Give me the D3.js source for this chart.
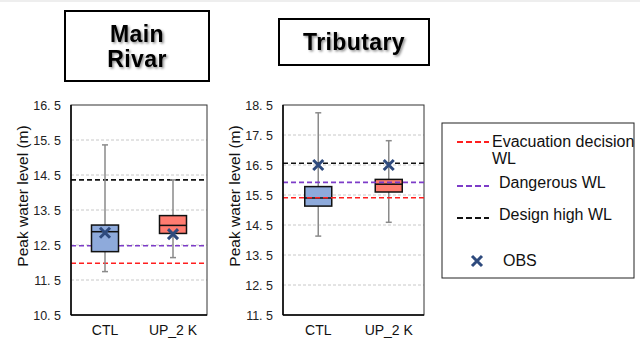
<!DOCTYPE html>
<html>
<head>
<meta charset="utf-8">
<script src="https://cdn.jsdelivr.net/npm/d3@7"></script>
<style>
body { margin: 0; background: #fff; }
svg { display: block; }
text { font-family: "Liberation Sans", Arial, sans-serif; }
</style>
</head>
<body>
<svg id="chart" width="640" height="338"></svg>
<script>
// data
var categories = ["CTL", "UP_2 K"];

// [min, q1, median, q3, max]
var mainStats = [[11.74, 12.31, 12.88, 13.07, 15.36],
                 [12.14, 12.83, 13.06, 13.34, 14.36]];
var mainObs = [12.85, 12.81];
var mainLevels = [11.98, 12.48, 14.36];   // evacuation, dangerous, design high
var mainTicks = [10.5, 11.5, 12.5, 13.5, 14.5, 15.5, 16.5];

var tribStats = [[14.13, 15.13, 15.40, 15.78, 18.24],
                 [14.59, 15.60, 15.86, 16.02, 17.31]];
var tribObs = [16.5, 16.5];
var tribLevels = [15.41, 15.92, 16.56];
var tribTicks = [11.5, 12.5, 13.5, 14.5, 15.5, 16.5, 17.5, 18.5];

var levelNames = [["Evacuation decision", "WL"], ["Dangerous WL"], ["Design high WL"]];
var levelColors = ["#ff1f1f", "#7d3cc8", "#111111"];
var boxColors = ["#8eaadb", "#ff7c70"];
var obsColor = "#2e4a7d";

var svg = d3.select("#chart");

// faint strip at the very top
svg.append("rect").attr("x", 0).attr("y", 0).attr("width", 640).attr("height", 2)
    .attr("fill", "#eeeeee");

var defs = svg.append("defs");
var f = defs.append("filter").attr("id", "shadow")
    .attr("x", "-20%").attr("y", "-20%").attr("width", "140%").attr("height", "140%");
f.append("feDropShadow").attr("dx", 1.5).attr("dy", 1.5).attr("stdDeviation", 1.2)
    .attr("flood-color", "#000").attr("flood-opacity", 0.45);

function fmtTick(v) { return d3.format(".1f")(v).replace(".", ". "); }

function drawPanel(p) {
    var y = d3.scaleLinear().domain(p.domain).range([315, 105]);
    var x = d3.scaleBand().domain(categories).range([p.left, p.right]);
    var g = svg.append("g");

    // gridlines
    g.selectAll(".grid").data(p.ticks.slice(1, -1)).enter().append("line")
        .attr("x1", p.left).attr("x2", p.right)
        .attr("y1", function(d) { return y(d); })
        .attr("y2", function(d) { return y(d); })
        .attr("stroke", "#c8c8c8").attr("stroke-width", 1)
        .attr("stroke-dasharray", "3,2");

    // frame
    g.append("rect").attr("x", p.left).attr("y", 105)
        .attr("width", p.right - p.left).attr("height", 210)
        .attr("fill", "none").attr("stroke", "#333").attr("stroke-width", 1);

    var levels = g.append("g");
    var boxes = g.append("g");
    if (p.linesOnTop) levels.raise();

    levels.selectAll("line").data(p.levels).enter().append("line")
        .attr("x1", p.left).attr("x2", p.right)
        .attr("y1", function(d) { return y(d); })
        .attr("y2", function(d) { return y(d); })
        .attr("stroke", function(d, i) { return levelColors[i]; })
        .attr("stroke-width", 1.6)
        .attr("stroke-dasharray", "5,3");

    var bw = 27;
    var b = boxes.selectAll("g").data(p.stats).enter().append("g")
        .attr("transform", function(d, i) { return "translate(" + (x(categories[i]) + x.bandwidth() / 2) + ",0)"; });
    b.append("line").attr("x1", 0).attr("x2", 0)
        .attr("y1", function(d) { return y(d[0]); })
        .attr("y2", function(d) { return y(d[4]); })
        .attr("stroke", "#8a8a8a").attr("stroke-width", 1.5);
    b.append("line").attr("x1", -3).attr("x2", 3)
        .attr("y1", function(d) { return y(d[0]); })
        .attr("y2", function(d) { return y(d[0]); })
        .attr("stroke", "#8a8a8a").attr("stroke-width", 1.5);
    b.append("line").attr("x1", -3).attr("x2", 3)
        .attr("y1", function(d) { return y(d[4]); })
        .attr("y2", function(d) { return y(d[4]); })
        .attr("stroke", "#8a8a8a").attr("stroke-width", 1.5);
    b.append("rect").attr("x", -bw / 2).attr("width", bw)
        .attr("y", function(d) { return y(d[3]); })
        .attr("height", function(d) { return y(d[1]) - y(d[3]); })
        .attr("fill", function(d, i) { return boxColors[i]; })
        .attr("stroke", "#111").attr("stroke-width", 1.5);
    b.append("line").attr("x1", -bw / 2).attr("x2", bw / 2)
        .attr("y1", function(d) { return y(d[2]); })
        .attr("y2", function(d) { return y(d[2]); })
        .attr("stroke", "#111").attr("stroke-width", 1.5);

    // obs markers
    var obs = g.append("g");
    obs.selectAll("path").data(p.obs).enter().append("path")
        .attr("d", "M-5,-5L5,5M-5,5L5,-5")
        .attr("transform", function(d, i) {
            return "translate(" + (x(categories[i]) + x.bandwidth() / 2) + "," + y(d) + ")";
        })
        .attr("stroke", obsColor).attr("stroke-width", 3);

    // left & bottom axis lines
    g.append("line").attr("x1", p.left).attr("x2", p.left).attr("y1", 105).attr("y2", 315)
        .attr("stroke", "#000").attr("stroke-width", 1.5);
    g.append("line").attr("x1", p.left).attr("x2", p.right).attr("y1", 315).attr("y2", 315)
        .attr("stroke", "#000").attr("stroke-width", 1.5);

    // tick labels
    g.selectAll(".tl").data(p.ticks).enter().append("text")
        .attr("x", p.left - 10).attr("y", function(d) { return y(d) + 4.5; })
        .attr("text-anchor", "end").attr("font-size", 12.5).attr("fill", "#222")
        .text(fmtTick);

    g.selectAll(".xl").data(categories).enter().append("text")
        .attr("x", function(d) { return x(d) + x.bandwidth() / 2; })
        .attr("y", 335).attr("text-anchor", "middle")
        .attr("font-size", 14).attr("fill", "#111")
        .text(function(d) { return d; });

    g.append("text")
        .attr("transform", "translate(" + p.titleX + ",196) rotate(-90)")
        .attr("text-anchor", "middle").attr("font-size", 15.5).attr("fill", "#111")
        .text("Peak water level (m)");

    // title box
    g.append("rect").attr("x", p.box[0]).attr("y", p.box[1])
        .attr("width", p.box[2]).attr("height", p.box[3])
        .attr("fill", "#fff").attr("stroke", "#000").attr("stroke-width", 2);
    var t = g.append("text").attr("text-anchor", "middle")
        .attr("font-family", "DejaVu Sans, Verdana, sans-serif")
        .attr("font-weight", "bold").attr("font-size", 23)
        .attr("letter-spacing", 0.4)
        .attr("filter", "url(#shadow)").attr("fill", "#000");
    p.title.forEach(function(s, i) {
        t.append("tspan").attr("x", p.box[0] + p.box[2] / 2)
            .attr("y", p.titleY + i * 25).text(s);
    });
}

drawPanel({ left: 71, right: 207, domain: [10.5, 16.5], ticks: mainTicks,
            stats: mainStats, obs: mainObs, levels: mainLevels, linesOnTop: false,
            titleX: 28, box: [65, 11, 144, 70], title: ["Main", "Rivar"], titleY: 42 });
drawPanel({ left: 283, right: 424, domain: [11.5, 18.5], ticks: tribTicks,
            stats: tribStats, obs: tribObs, levels: tribLevels, linesOnTop: true,
            titleX: 240, box: [279, 19, 150, 46], title: ["Tributary"], titleY: 50 });

// legend
var leg = svg.append("g");
leg.append("rect").attr("x", 442).attr("y", 123).attr("width", 192).attr("height", 155)
    .attr("fill", "#fff").attr("stroke", "#222").attr("stroke-width", 1);
var legLineY = [142, 186, 218];
var legTextY = [147, 188, 220];
var legTextX = [492, 499, 499];
levelNames.forEach(function(lines, i) {
    leg.append("line").attr("x1", 457).attr("x2", 489)
        .attr("y1", legLineY[i]).attr("y2", legLineY[i])
        .attr("stroke", levelColors[i]).attr("stroke-width", 1.8)
        .attr("stroke-dasharray", "6,3");
    lines.forEach(function(s, j) {
        leg.append("text").attr("x", legTextX[i]).attr("y", legTextY[i] + j * 16.5)
            .attr("font-size", 16).attr("fill", "#111").text(s);
    });
});
leg.append("path").attr("d", "M-5,-5L5,5M-5,5L5,-5")
    .attr("transform", "translate(477,261)")
    .attr("stroke", obsColor).attr("stroke-width", 3);
leg.append("text").attr("x", 503).attr("y", 266).attr("font-size", 16).attr("fill", "#111").text("OBS");
</script>
</body>
</html>
